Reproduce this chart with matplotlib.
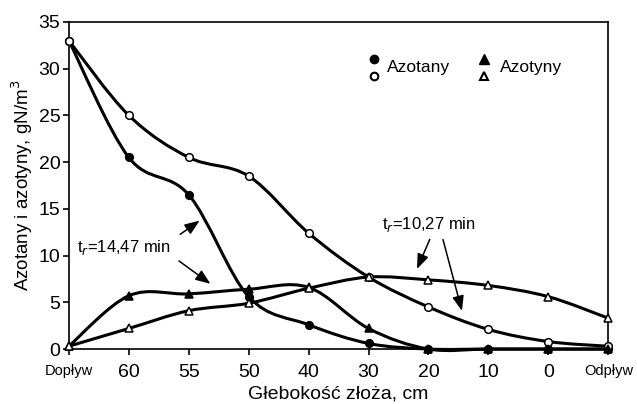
import numpy as np
import matplotlib
matplotlib.use('Agg')
from matplotlib import pyplot as plt
from matplotlib.path import Path
from matplotlib.patches import PathPatch

plt.rcParams['font.family'] = ['Liberation Sans', 'DejaVu Sans']

# dane
kategorie = ['Dopływ', '60', '55', '50', '40', '30', '20', '10', '0', 'Odpływ']
azotany_14 = [33, 20.5, 16.5, 5.6, 2.6, 0.6, 0, 0, 0, 0]
azotany_10 = [33, 25.0, 20.5, 18.5, 12.4, 7.7, 4.5, 2.1, 0.8, 0.3]
azotyny_14 = [0.3, 5.7, 5.9, 6.4, 6.6, 2.2, 0, 0, 0, 0]
azotyny_10 = [0.3, 2.2, 4.1, 4.9, 6.5, 7.7, 7.4, 6.8, 5.6, 3.3]


def gladka(ax, x, y):
    # wygładzona linia jak w Excelu (Bezier przez punkty)
    x = np.asarray(x, float)
    y = np.asarray(y, float)
    n = len(x)
    verts = [(x[0], y[0])]
    codes = [Path.MOVETO]
    for i in range(n - 1):
        x0, y0 = (x[i - 1], y[i - 1]) if i > 0 else (x[i], y[i])
        x3, y3 = (x[i + 2], y[i + 2]) if i + 2 < n else (x[i + 1], y[i + 1])
        c1 = (x[i] + (x[i + 1] - x0) / 6, y[i] + (y[i + 1] - y0) / 6)
        c2 = (x[i + 1] - (x3 - x[i]) / 6, y[i + 1] - (y3 - y[i]) / 6)
        verts += [c1, c2, (x[i + 1], y[i + 1])]
        codes += [Path.CURVE4] * 3
    ax.add_patch(PathPatch(Path(verts, codes), fill=False, lw=2.2,
                           edgecolor='black', zorder=2, clip_on=False))


fig = plt.figure(figsize=(6.37, 4.04), dpi=100)
ax = fig.add_axes([0.108, 0.136, 0.847, 0.81])

x = np.arange(len(kategorie))
for y, m, fc in [(azotany_14, 'o', 'black'), (azotany_10, 'o', 'white'),
                 (azotyny_14, '^', 'black'), (azotyny_10, '^', 'white')]:
    gladka(ax, x, y)
    ax.plot(x, y, linestyle='none', marker=m, ms=5.5, mfc=fc, mec='black',
            mew=1.1, zorder=3, clip_on=False)

ax.set_xlim(0, 9)
ax.set_ylim(0, 35)
ax.set_yticks(range(0, 36, 5))
ax.set_xticks(x)
ax.set_xticklabels(kategorie)
ax.tick_params(axis='both', direction='out', length=4, width=1.2, labelsize=14, pad=2)
ax.tick_params(axis='x', pad=7)
for lab in ax.get_xticklabels():
    if lab.get_text() in ('Dopływ', 'Odpływ'):
        lab.set_fontsize(10.5)
for sp in ax.spines.values():
    sp.set_linewidth(1.2)

ax.set_xlabel('Głebokość złoża, cm', fontsize=14, labelpad=3)
ax.set_ylabel('Azotany i azotyny, gN/m$^3$', fontsize=13.5, labelpad=3)

# legenda
ax.plot([0.566], [0.885], 'o', ms=6, mfc='black', mec='black', transform=ax.transAxes)
ax.plot([0.566], [0.835], 'o', ms=5.5, mfc='white', mec='black', mew=1.5, transform=ax.transAxes)
ax.text(0.59, 0.86, 'Azotany', fontsize=12.5, va='center', transform=ax.transAxes)
ax.plot([0.77], [0.885], '^', ms=6.5, mfc='black', mec='black', transform=ax.transAxes)
ax.plot([0.77], [0.835], '^', ms=5.5, mfc='white', mec='black', mew=1.5, transform=ax.transAxes)
ax.text(0.80, 0.86, 'Azotyny', fontsize=12.5, va='center', transform=ax.transAxes)

# opisy czasów
ax.text(0.13, 10.9, 't$_r$=14,47 min', fontsize=12, va='center')
strzalka = dict(arrowstyle='-|>,head_length=0.9,head_width=0.35', color='black', lw=1.1)
ax.annotate('', xy=(2.22, 13.9), xytext=(1.82, 12.1), arrowprops=strzalka)
ax.annotate('', xy=(2.4, 6.8), xytext=(1.8, 9.6), arrowprops=strzalka)

ax.text(5.22, 13.3, 't$_r$=10,27 min', fontsize=12, va='center')
ax.annotate('', xy=(5.79, 8.3), xytext=(6.04, 12.0), arrowprops=strzalka)
ax.annotate('', xy=(6.57, 3.8), xytext=(6.23, 12.0), arrowprops=strzalka)

plt.savefig('out.png', dpi=100)
